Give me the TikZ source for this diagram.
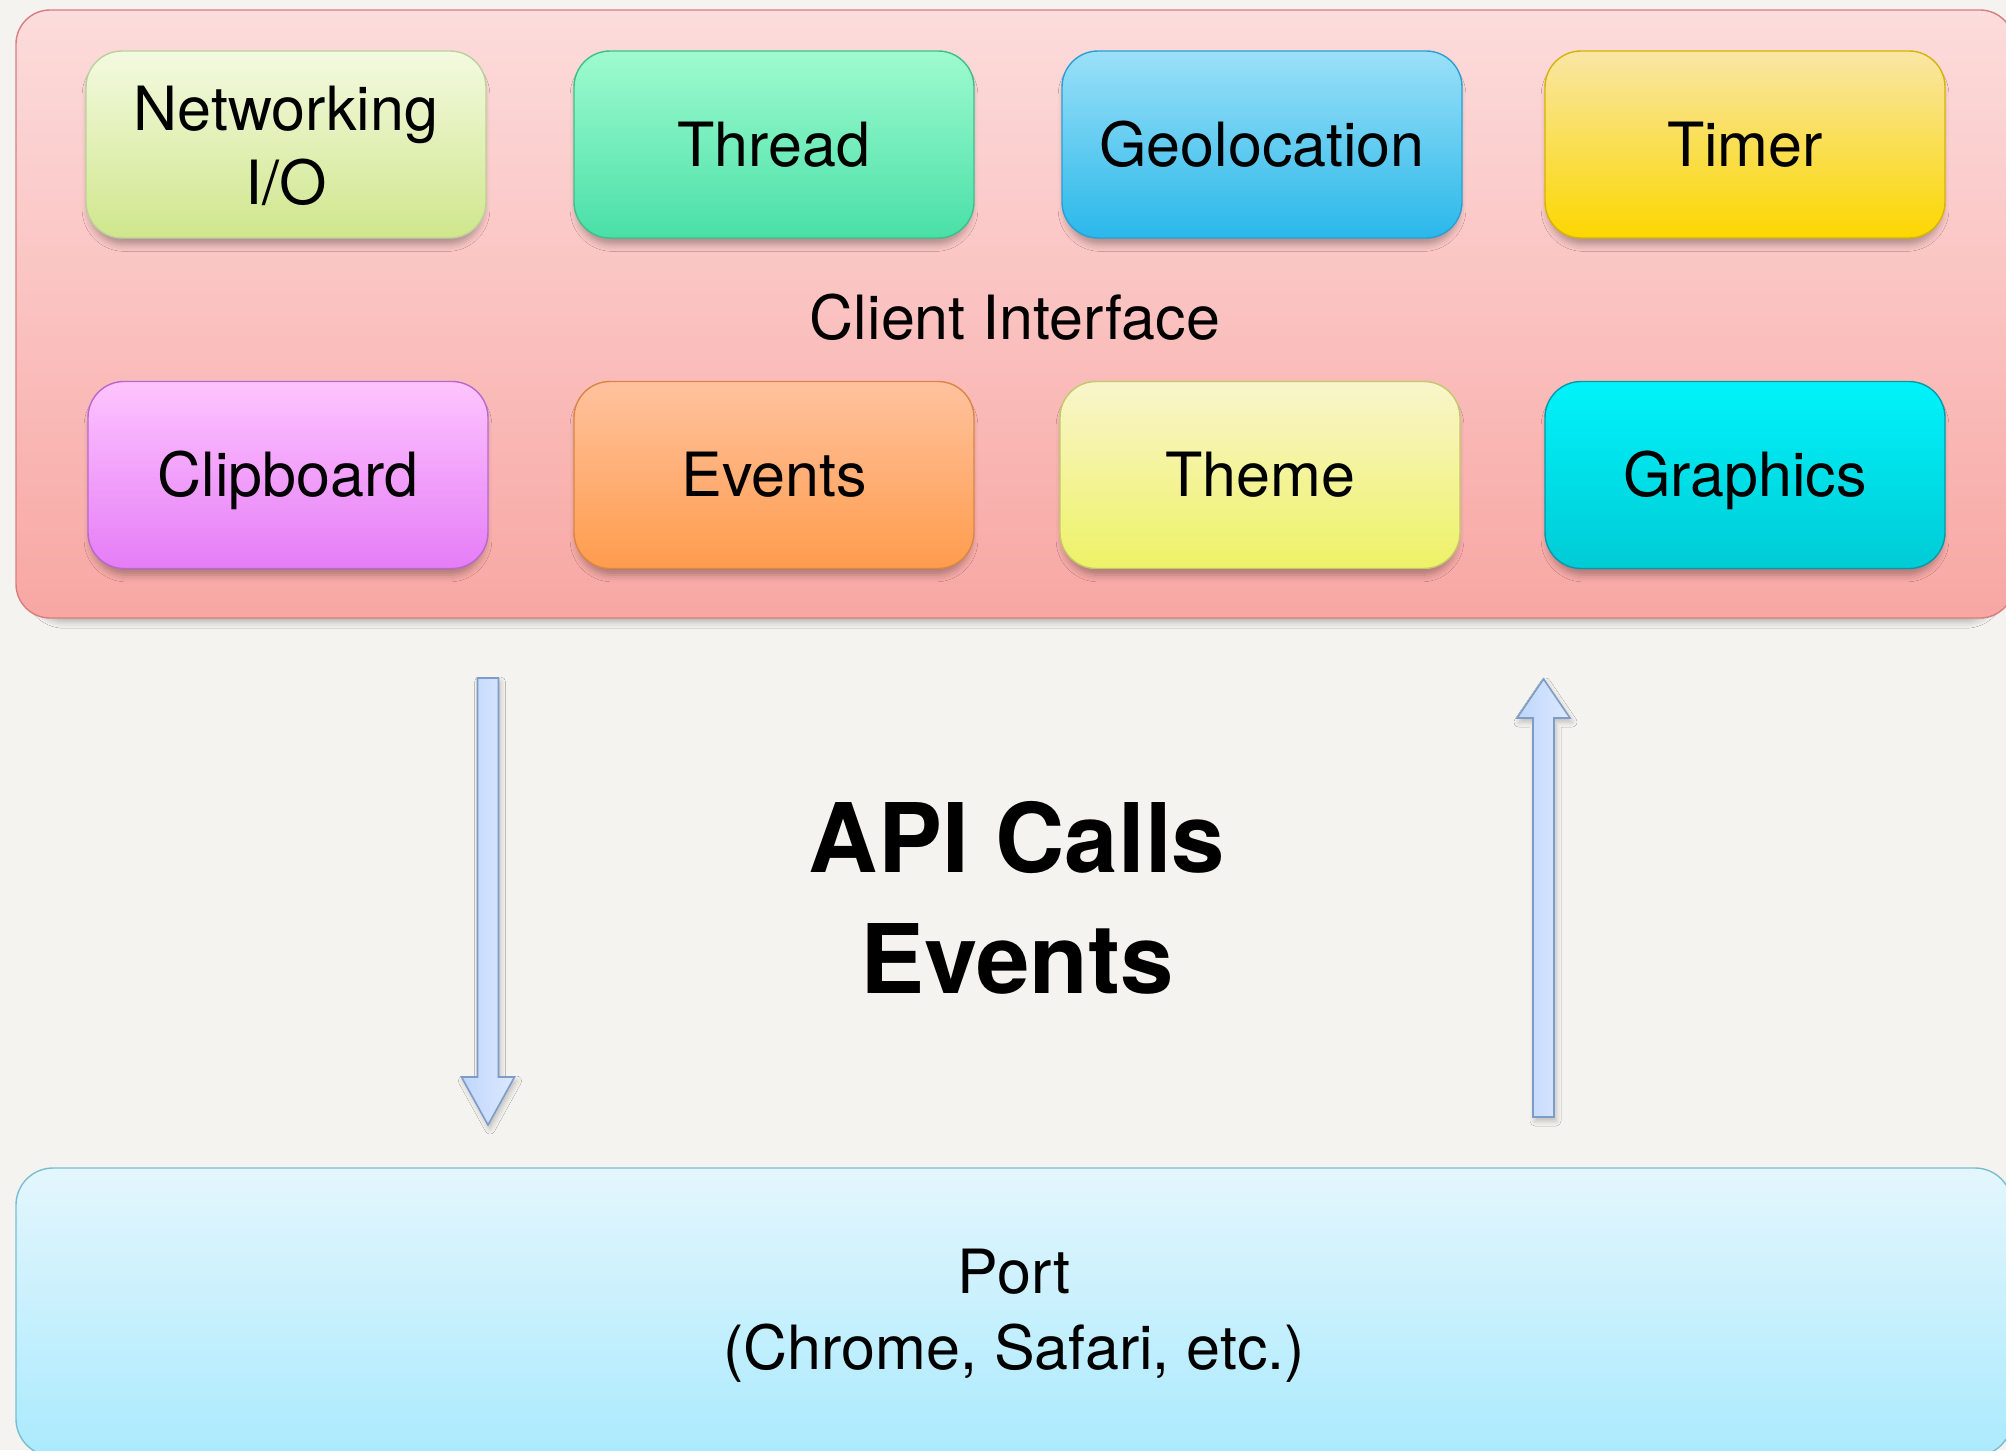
\documentclass[tikz,border=0pt]{standalone}
\usepackage{fontspec}
\setmainfont{TeX Gyre Heros}
\usetikzlibrary{shadows.blur}

% palette
\definecolor{paper}{HTML}{F4F3F0}
\definecolor{pinkTop}{HTML}{FCDCDC}
\definecolor{pinkBot}{HTML}{F8A7A3}
\definecolor{pinkLine}{HTML}{D77F7F}
\definecolor{netTop}{HTML}{F3FAE0}
\definecolor{netBot}{HTML}{D0E68C}
\definecolor{netLine}{HTML}{BBD19A}
\definecolor{thrTop}{HTML}{9EFBCF}
\definecolor{thrBot}{HTML}{4ADFA8}
\definecolor{thrLine}{HTML}{3DBF8C}
\definecolor{geoTop}{HTML}{9BE0F8}
\definecolor{geoBot}{HTML}{2AB8EA}
\definecolor{geoLine}{HTML}{2A9FD4}
\definecolor{timTop}{HTML}{F9E6A6}
\definecolor{timBot}{HTML}{FBD700}
\definecolor{timLine}{HTML}{D6B400}
\definecolor{clpTop}{HTML}{FEC4FE}
\definecolor{clpBot}{HTML}{E57DF7}
\definecolor{clpLine}{HTML}{B767D0}
\definecolor{evtTop}{HTML}{FFC29E}
\definecolor{evtBot}{HTML}{FF9C4D}
\definecolor{evtLine}{HTML}{DB8544}
\definecolor{thmTop}{HTML}{F9F5CC}
\definecolor{thmBot}{HTML}{EEF266}
\definecolor{thmLine}{HTML}{C2C96A}
\definecolor{gfxTop}{HTML}{00F3FB}
\definecolor{gfxBot}{HTML}{00CBD5}
\definecolor{gfxLine}{HTML}{0399A9}
\definecolor{portTop}{HTML}{E4F6FD}
\definecolor{portBot}{HTML}{AAEAFD}
\definecolor{portLine}{HTML}{79BED0}
\definecolor{arrLeft}{HTML}{BFD6FB}
\definecolor{arrRight}{HTML}{DCE9FF}
\definecolor{arrLine}{HTML}{7D9CC6}

\begin{document}
\begin{tikzpicture}[x=0.5pt, y=-0.5pt,
  softshadow/.style={blur shadow={shadow xshift=0pt, shadow yshift=-4pt,
      shadow blur radius=3.5pt, shadow scale=0.985, shadow opacity=30}},
  labelfont/.style={font=\fontsize{30.5}{38}\selectfont},
  capcentre/.style={text height=21.9pt, text depth=0pt},
  container/.style={rounded corners=17pt, line width=0.7pt, softshadow,
      labelfont, text height=25.9pt, text depth=0pt, inner sep=0pt},
  module/.style={rounded corners=18pt, line width=0.7pt, softshadow,
      minimum width=200pt, minimum height=93.5pt, inner sep=0pt,
      labelfont, align=center},
  blockarrow/.style={draw=arrLine, line width=0.8pt, left color=arrLeft,
      right color=arrRight, line join=miter,
      blur shadow={shadow xshift=1pt, shadow yshift=-2pt,
      shadow blur radius=2.5pt, shadow opacity=22}}
]
\useasboundingbox (0,0) rectangle (2006,1450);
\clip (0,0) rectangle (2006,1450);
\fill[paper] (0,0) rectangle (2006,1450);

% outer client layer
\node[container, top color=pinkTop, bottom color=pinkBot, draw=pinkLine,
      minimum width=999pt, minimum height=304pt] (client) at (1015,314)
      {Client Interface};

% top row of modules
\node[module, top color=netTop, bottom color=netBot, draw=netLine]
  (net) at (286,144.5)
  {\raisebox{-3.8pt}[\height][\depth]{\begin{tabular}{@{}c@{}}Networking\\[-1pt]I/O\end{tabular}}};
\node[module, capcentre, top color=thrTop, bottom color=thrBot, draw=thrLine]
  (thread) at (774,144.5) {Thread};
\node[module, capcentre, top color=geoTop, bottom color=geoBot, draw=geoLine]
  (geo) at (1262,144.5) {Geolocation};
\node[module, capcentre, top color=timTop, bottom color=timBot, draw=timLine]
  (timer) at (1745,144.5) {Timer};

% bottom row of modules
\node[module, capcentre, top color=clpTop, bottom color=clpBot, draw=clpLine]
  (clip) at (288,475) {Clipboard};
\node[module, capcentre, top color=evtTop, bottom color=evtBot, draw=evtLine]
  (events) at (774,475) {Events};
\node[module, capcentre, top color=thmTop, bottom color=thmBot, draw=thmLine]
  (theme) at (1260,475) {Theme};
\node[module, capcentre, top color=gfxTop, bottom color=gfxBot, draw=gfxLine]
  (gfx) at (1745,475) {Graphics};

% port layer
\node[rounded corners=18.5pt, line width=0.7pt, softshadow, labelfont,
      align=center, inner sep=0pt,
      top color=portTop, bottom color=portBot, draw=portLine,
      minimum width=998pt, minimum height=144pt] (port) at (1014,1312)
      {\raisebox{-2pt}[\height][\depth]{\begin{tabular}{@{}c@{}}Port\\(Chrome, Safari, etc.)\end{tabular}}};

% centre caption
\node[font=\bfseries\fontsize{48}{60.5}\selectfont, align=center, inner sep=0pt]
  (calls) at (1017,898) {API Calls\\Events};

% block arrows: calls go down to the port, events come back up
\path[blockarrow]
  (477.5,678) -- (498.5,678) -- (498.5,1077) -- (514.5,1077) -- (488,1125)
  -- (461.5,1077) -- (477.5,1077) -- cycle;
\path[blockarrow]
  (1533,1117) -- (1554,1117) -- (1554,718) -- (1570,718) -- (1543.5,679)
  -- (1517,718) -- (1533,718) -- cycle;
\end{tikzpicture}
\end{document}
